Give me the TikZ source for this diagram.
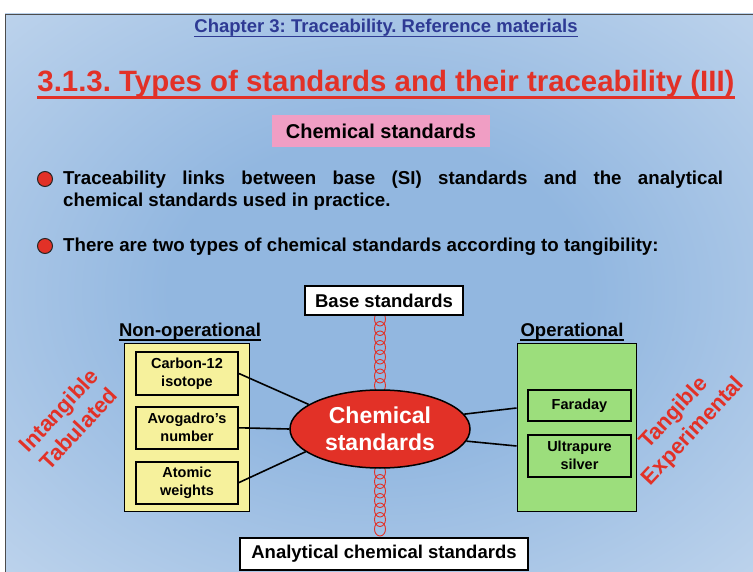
\documentclass[tikz,border=0pt]{standalone}
\usepackage{fontspec}
\setmainfont{Liberation Sans}
\usetikzlibrary{positioning, shapes.geometric}
\usepackage{xcolor}
\definecolor{headblue}{HTML}{2E3A94}
\definecolor{slidered}{HTML}{E23127}
\definecolor{padpink}{HTML}{F09EC4}
\definecolor{padyellow}{HTML}{F6F19C}
\definecolor{padgreen}{HTML}{9CDE7C}
\definecolor{bgcore}{HTML}{92B7E0}
\definecolor{bgmid}{HTML}{BDD3EC}
\definecolor{bgrim}{HTML}{F3E6F4}
\pgfdeclareradialshading{slideshade}{\pgfpointorigin}{color(0bp)=(bgcore); color(14bp)=(bgcore); color(36bp)=(bgmid); color(55bp)=(bgrim); color(75bp)=(bgrim)}
\frenchspacing

\begin{document}
\begin{tikzpicture}[x=1pt, y=-1pt,
          node distance=10pt,
          heading/.style={inner sep=0pt, anchor=base, font=\bfseries\fontsize{18.5}{22}\selectfont},
          labelbox/.style={rectangle, draw, fill=white, line width=1.4pt, inner sep=0pt,
                           font=\bfseries\fontsize{18.5}{22}\selectfont},
          group/.style={rectangle, draw, line width=1pt, minimum height=167pt},
          item/.style={rectangle, draw, line width=1.8pt, minimum width=102pt,
                       align=center, inner sep=1pt, font=\bfseries\fontsize{14.5}{18}\selectfont},
          side/.style={text=slidered, align=center, rotate=47,
                       font=\bfseries\fontsize{22}{27}\selectfont},
          dot/.style={circle, draw=black!85, fill=slidered, line width=1pt,
                      minimum size=15pt, inner sep=0pt},
          bullet/.style={anchor=north west, inner sep=0pt, text width=660pt, align=justify,
                         font=\bfseries\fontsize{18.7}{22}\selectfont},
          link/.style={line width=1.6pt},
          chainlink/.style={draw=slidered, line width=0.9pt},
        ]
        % slide background
        \useasboundingbox (0,0) rectangle (753,572);
        \fill[white] (0,0) rectangle (753,572);
        \shade[shading=slideshade] (5,14) rectangle (753,572);
        \draw[black!70, line width=0.8pt] (5,572) -- (5,14) -- (753,14);

        % headings
        \node[heading, text=headblue] (chapter) at (386,33) {Chapter 3: Traceability. Reference materials};
        \draw[headblue, line width=1.8pt] ([yshift=-3.5pt]chapter.base west) -- ([yshift=-3.5pt]chapter.base east);
        \node[heading, text=slidered, font=\bfseries\fontsize{29.4}{34}\selectfont] (title) at (386,92)
              {3.1.3. Types of standards and their traceability (III)};
        \draw[slidered, line width=3pt] ([yshift=-5.5pt]title.base west) -- ([yshift=-5.5pt]title.base east);
        \node[rectangle, fill=padpink, minimum width=218pt, minimum height=32pt,
              font=\bfseries\fontsize{20}{24}\selectfont] (chemhead) at (381,131) {Chemical standards};

        % bullets
        \node[dot] (dotA) at (45,179) {};
        \node[bullet] (lineA) at (63,171) {Traceability links between base (SI) standards and the analytical\linebreak chemical standards used in practice.};
        \node[dot] (dotB) at (45,246) {};
        \node[bullet] (lineB) at (63,238) {There are two types of chemical standards according to tangibility:};

        % chain of links
        \foreach \y in {319,328.5,...,386} \draw[chainlink] (380,\y) ellipse (5.5pt and 7pt);
        \foreach \y in {472,481.5,...,536} \draw[chainlink] (380,\y) ellipse (5.5pt and 7pt);

        % centre
        \node[labelbox, minimum width=158pt, minimum height=29pt] (base) at (384,300.5) {Base standards};
        \node[labelbox, minimum width=288pt, minimum height=32pt] (anal) at (384,554) {Analytical chemical standards};
        \node[ellipse, draw, fill=slidered, line width=1.5pt, minimum width=180pt, minimum height=78pt,
              inner sep=0pt, text=white, align=center,
              font=\bfseries\fontsize{23}{27}\selectfont] (chem) at (380,429) {Chemical\\standards};

        % non-operational side
        \node[heading] (nonoplabel) at (190,337) {Non-operational};
        \draw[line width=1.5pt] ([yshift=-3pt]nonoplabel.base west) -- ([yshift=-3pt]nonoplabel.base east);
        \node[group, fill=padyellow, minimum width=125pt] (nonop) at (186.5,427.5) {};
        \node[item, fill=padyellow, minimum height=43pt] (carbon) at (187,373.5) {Carbon-12\\isotope};
        \node[item, fill=padyellow, minimum height=42pt, below=of carbon] (avog) {Avogadro's\\number};
        \node[item, fill=padyellow, minimum height=42pt, below=11pt of avog] (atomic) {Atomic\\weights};

        % operational side
        \node[heading] (oplabel) at (572,337) {Operational};
        \draw[line width=1.5pt] ([yshift=-3pt]oplabel.base west) -- ([yshift=-3pt]oplabel.base east);
        \node[group, fill=padgreen, minimum width=119pt] (op) at (576.5,427.5) {};
        \node[item, fill=padgreen, minimum height=31pt, minimum width=103pt] (faraday) at (579.5,405.5) {Faraday};
        \node[item, fill=padgreen, minimum height=42pt, minimum width=103pt, below=12pt of faraday] (silver) {Ultrapure\\silver};

        % links to the centre
        \draw[link] (carbon.east) -- (chem.161);
        \draw[link] (avog.east) -- (chem.180);
        \draw[link] (atomic.east) -- (chem.197);
        \draw[link] (chem.10) -- ([yshift=19.5pt]op.west);
        \draw[link] (chem.-8) -- ([yshift=-18.5pt]op.west);

        % side words
        \node[side] (intang) at (68.5,419.5) {Intangible\\Tabulated};
        \node[side] (tang) at (684,422.5) {Tangible\\Experimental};
      \end{tikzpicture}
\end{document}
